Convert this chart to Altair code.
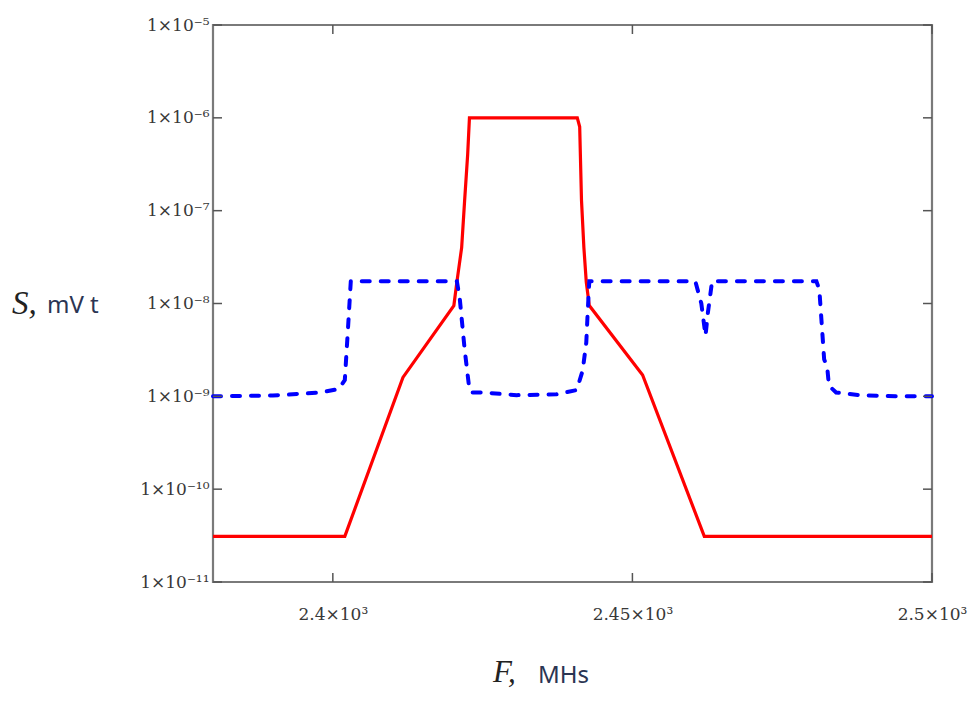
import altair as alt
import pandas as pd

# ---- data ----
red_f = [2380, 2402, 2411.7, 2420.2, 2420.7, 2421.5, 2422.0, 2422.5, 2422.8,
         2440.8, 2441.2, 2441.5, 2441.9, 2442.3, 2442.8, 2451.7, 2462, 2500]
red_s = [3.1e-11, 3.1e-11, 1.6e-9, 9.5e-9, 1.7e-8, 4e-8, 1.3e-7, 4e-7, 1e-6,
         1e-6, 8e-7, 1.3e-7, 4e-8, 1.7e-8, 9.5e-9, 1.7e-9, 3.1e-11, 3.1e-11]

blue_f = [2380, 2390, 2398, 2401, 2402, 2402.5, 2403,
          2420.7, 2421.2, 2422.0, 2422.8, 2423.2, 2425, 2430.7, 2437.3, 2440.7,
          2441.7, 2442.3, 2442.5, 2442.8,
          2460.5, 2461.5, 2462.2, 2462.6, 2463.3,
          2480.7, 2481.2, 2481.7, 2482.0, 2482.5, 2482.8, 2484, 2487.8, 2494.5, 2500]
blue_s = [1.0e-9, 1.02e-9, 1.1e-9, 1.2e-9, 1.5e-9, 5e-9, 1.74e-8,
          1.74e-8, 1.1e-8, 3.2e-9, 1.17e-9, 1.1e-9, 1.1e-9, 1.03e-9, 1.05e-9, 1.17e-9,
          1.9e-9, 3.8e-9, 7.2e-9, 1.74e-8,
          1.74e-8, 1.0e-8, 4.5e-9, 8e-9, 1.74e-8,
          1.74e-8, 1.4e-8, 4.8e-9, 2.5e-9, 2.1e-9, 1.3e-9, 1.1e-9, 1.03e-9, 1.0e-9, 1.0e-9]

x_tick_values = [2400, 2450, 2500]
x_tick_labels = ["2.4×10³", "2.45×10³", "2.5×10³"]
y_tick_values = [1e-11, 1e-10, 1e-9, 1e-8, 1e-7, 1e-6, 1e-5]
y_tick_labels = ["1×10⁻¹¹", "1×10⁻¹⁰", "1×10⁻⁹", "1×10⁻⁸", "1×10⁻⁷", "1×10⁻⁶", "1×10⁻⁵"]

W, H = 719, 557
TICK = 9

red_df = pd.DataFrame({"F": red_f, "S": red_s})
blue_df = pd.DataFrame({"F": blue_f, "S": blue_s})
xt_df = pd.DataFrame({"F": x_tick_values})
yt_df = pd.DataFrame({"S": y_tick_values})

def nested(values, labels, factor):
    expr = f"'{labels[-1]}'"
    for v, l in reversed(list(zip(values[:-1], labels[:-1]))):
        expr = f"datum.value < {v * factor} ? '{l}' : ({expr})"
    return expr

x_expr = nested(x_tick_values, x_tick_labels, 1.005)
y_expr = nested(y_tick_values, y_tick_labels, 3)

x_scale = alt.Scale(domain=[2380, 2500], nice=False, zero=False)
y_scale = alt.Scale(type="log", domain=[1e-11, 1e-5], nice=False)

x_axis = alt.Axis(values=x_tick_values, labelExpr=x_expr, grid=False, ticks=False,
                  domain=False, title=None, labelPadding=24,
                  labelFont="DejaVu Serif", labelFontSize=17, labelColor="#383838",
                  labelFlush=False, labelOverlap=False)
y_axis = alt.Axis(values=y_tick_values, labelExpr=y_expr, grid=False, ticks=False,
                  domain=False, title=None, labelPadding=4,
                  labelFont="DejaVu Serif", labelFontSize=17, labelColor="#383838",
                  labelFlush=False, labelOverlap=False)

frame = alt.Chart(pd.DataFrame({"t": [0]})).mark_rect(
    fill=None, stroke="#7a7a7a", strokeWidth=2.2).encode(
    x=alt.value(0), x2=alt.value(W), y=alt.value(0), y2=alt.value(H))

red = alt.Chart(red_df).mark_line(color="#ff0000", strokeWidth=3.2).encode(
    x=alt.X("F:Q", scale=x_scale, axis=x_axis),
    y=alt.Y("S:Q", scale=y_scale, axis=y_axis),
)
blue = alt.Chart(blue_df).mark_line(color="#0000ff", strokeWidth=4,
                                    strokeDash=[8, 11], strokeCap="round").encode(
    x=alt.X("F:Q", scale=x_scale),
    y=alt.Y("S:Q", scale=y_scale),
)

tick_style = dict(color="#555555", strokeWidth=1.5)
yt_left = alt.Chart(yt_df).mark_rule(**tick_style).encode(
    y=alt.Y("S:Q", scale=y_scale), x=alt.value(0), x2=alt.value(TICK))
yt_right = alt.Chart(yt_df).mark_rule(**tick_style).encode(
    y=alt.Y("S:Q", scale=y_scale), x=alt.value(W - TICK), x2=alt.value(W))
xt_bottom = alt.Chart(xt_df).mark_rule(**tick_style).encode(
    x=alt.X("F:Q", scale=x_scale), y=alt.value(H - TICK), y2=alt.value(H))
xt_top = alt.Chart(xt_df).mark_rule(**tick_style).encode(
    x=alt.X("F:Q", scale=x_scale), y=alt.value(0), y2=alt.value(TICK))

one = pd.DataFrame({"t": [0]})
s_title = alt.Chart(one).mark_text(text="S,", font="Liberation Serif", fontStyle="italic",
                                   fontSize=33, align="left", baseline="middle",
                                   color="#222222").encode(
    x=alt.value(-201), y=alt.value(279))
s_unit = alt.Chart(one).mark_text(text="mV t", font="Noto Sans", fontSize=24,
                                  align="left", baseline="middle", color="#2b3553").encode(
    x=alt.value(-166), y=alt.value(281))
f_title = alt.Chart(one).mark_text(text="F,", font="Liberation Serif", fontStyle="italic",
                                   fontSize=31, align="left", baseline="middle",
                                   color="#222222").encode(
    x=alt.value(280), y=alt.value(648))
f_unit = alt.Chart(one).mark_text(text="MHs", font="Noto Sans", fontSize=24,
                                  align="left", baseline="middle", color="#2b3553").encode(
    x=alt.value(325), y=alt.value(651))

chart = alt.layer(frame, red, blue, yt_left, yt_right, xt_bottom, xt_top,
                  s_title, s_unit, f_title, f_unit).properties(
    width=W, height=H,
    autosize=alt.AutoSizeParams(type="none"),
    padding={"left": 205, "top": 17, "right": 38, "bottom": 110},
).configure_view(stroke=None).configure(background="white")

chart.save("out.html", embed_options={"renderer": "svg", "actions": False})
